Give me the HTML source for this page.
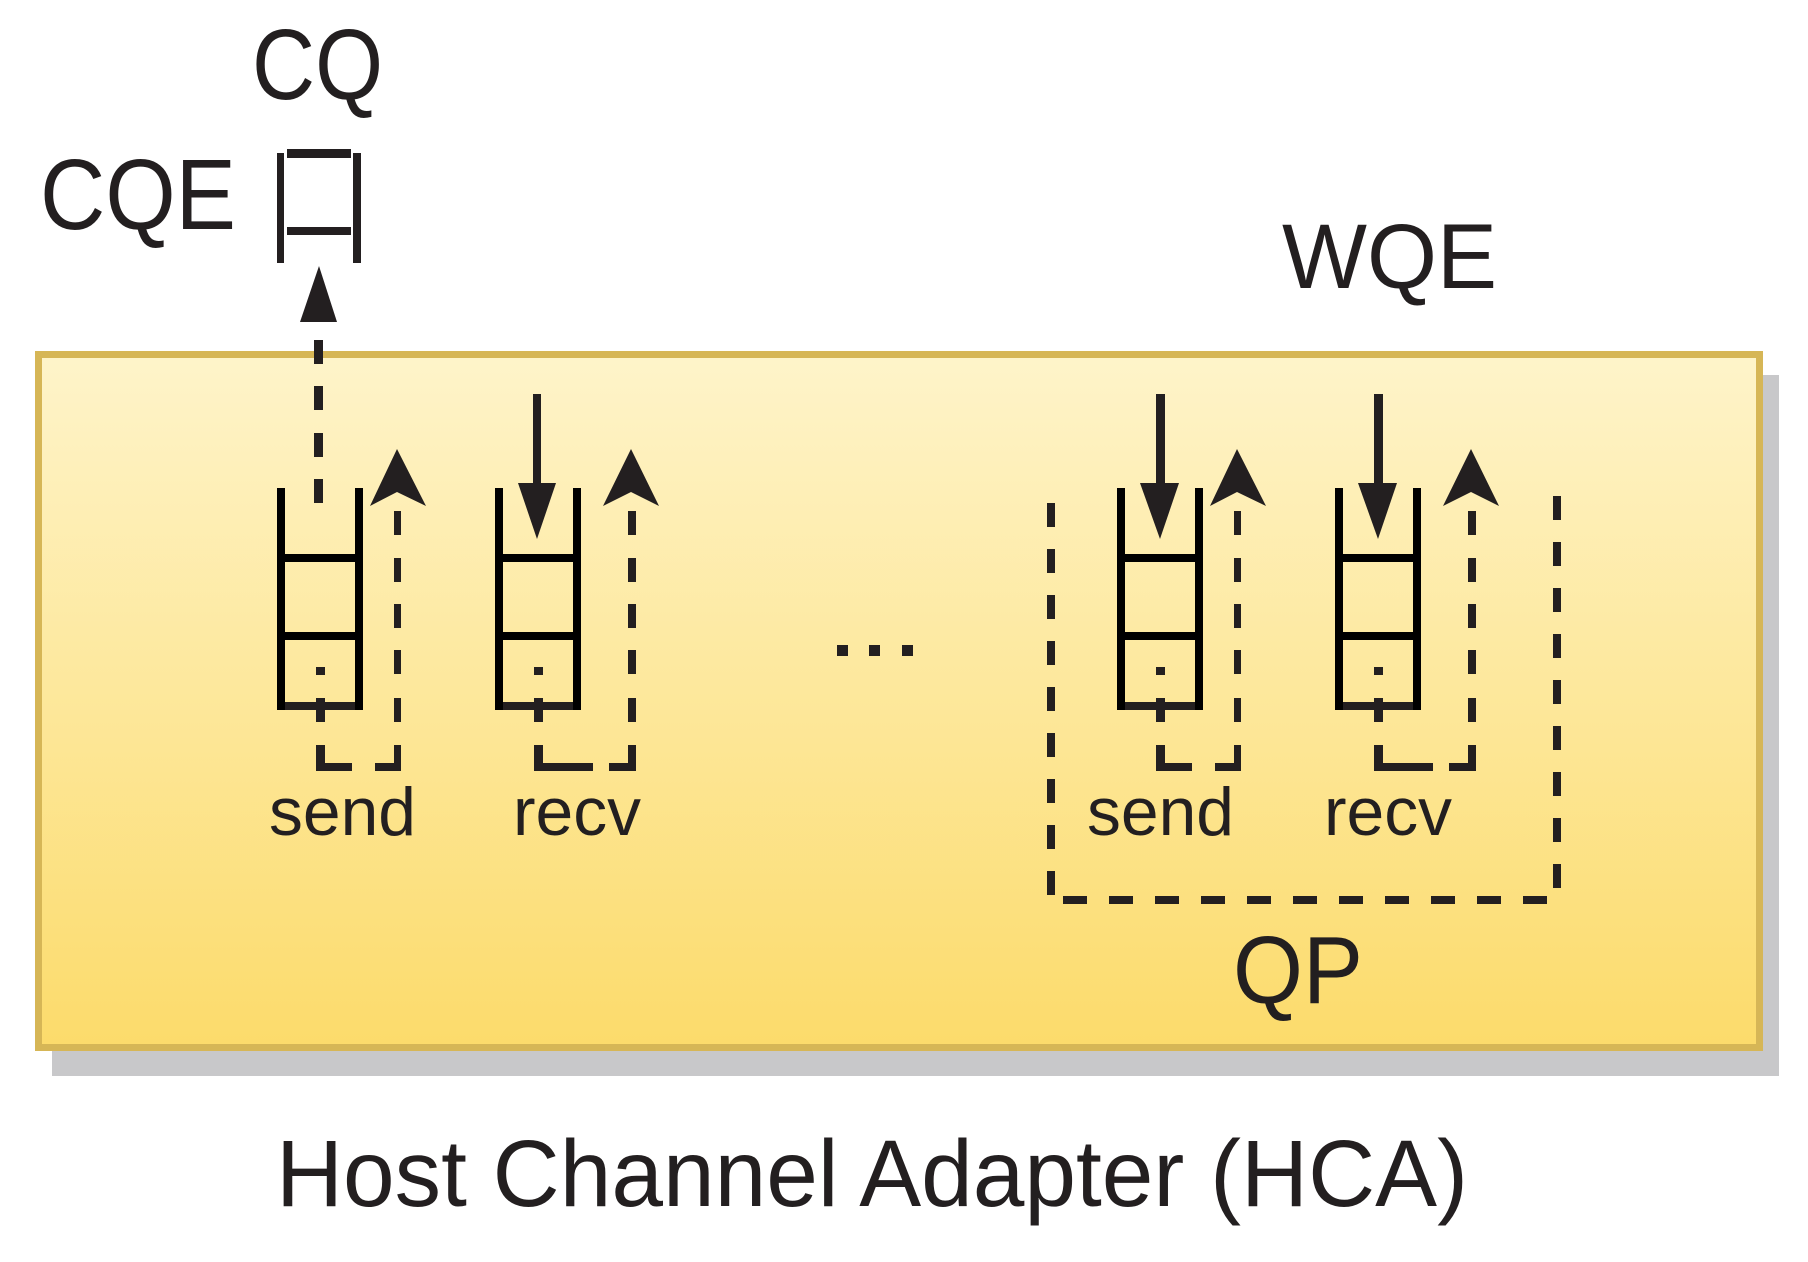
<!DOCTYPE html>
<html><head><meta charset="utf-8"><style>
html,body{margin:0;padding:0;background:#fff;}
svg{display:block;}
text{font-family:"Liberation Sans",Arial,sans-serif;fill:#231f20;}
</style></head><body>
<svg width="1808" height="1262" viewBox="0 0 1808 1262" xmlns="http://www.w3.org/2000/svg">
<defs>
<linearGradient id="g" x1="0" y1="0" x2="0" y2="1">
<stop offset="0" stop-color="#fef4ca"/>
<stop offset="1" stop-color="#fcdb6b"/>
</linearGradient>
<g id="q">
<rect x="1117" y="488" width="8" height="222" fill="#000"/>
<rect x="1195" y="488" width="8" height="222" fill="#000"/>
<rect x="1125" y="554" width="70" height="8" fill="#000"/>
<rect x="1125" y="632" width="70" height="8" fill="#000"/>
<rect x="1125" y="702" width="70" height="8" fill="#231f20"/>
<rect x="1156" y="667" width="9" height="8" fill="#231f20"/>
<rect x="1156" y="698" width="9" height="24" fill="#231f20"/>
<rect x="1156" y="745" width="9" height="26" fill="#231f20"/>
<rect x="1165" y="763" width="27" height="8" fill="#231f20"/>
</g>
</defs>

<rect x="52" y="375" width="1727" height="701" fill="#c8c8ca"/>
<rect x="38.5" y="354.5" width="1721" height="693" fill="url(#g)" stroke="#d6b656" stroke-width="7"/>

<text x="252" y="99" font-size="100" textLength="131" lengthAdjust="spacingAndGlyphs">CQ</text>
<text x="40" y="229" font-size="100" textLength="196" lengthAdjust="spacingAndGlyphs">CQE</text>
<rect x="277" y="153" width="7" height="110" fill="#231f20"/>
<rect x="353" y="153" width="8" height="110" fill="#231f20"/>
<rect x="287" y="149" width="64" height="9" fill="#231f20"/>
<rect x="287" y="227" width="64" height="8" fill="#231f20"/>
<polygon points="300,322 319,266 337,322" fill="#231f20"/>
<g fill="#231f20">
<rect x="314" y="340" width="9" height="24"/>
<rect x="314" y="386" width="9" height="24"/>
<rect x="314" y="433" width="9" height="24"/>
<rect x="314" y="479" width="9" height="24"/>
</g>

<text x="1282" y="288" font-size="92" textLength="215" lengthAdjust="spacingAndGlyphs">WQE</text>

<g id="pair">
<use href="#q"/>
<rect x="1215" y="763" width="26" height="8" fill="#231f20"/>
<polygon points="1210,506 1237,449 1266,506 1237,492" fill="#231f20"/>
<g fill="#231f20">
<rect x="1234" y="511" width="7" height="24"/><rect x="1234" y="558" width="7" height="24"/>
<rect x="1234" y="604" width="7" height="24"/><rect x="1234" y="650" width="7" height="24"/>
<rect x="1234" y="698" width="7" height="24"/><rect x="1234" y="745" width="7" height="26"/>
</g>
<g transform="translate(218,0)">
<use href="#q"/>
</g>
<rect x="1407" y="763" width="26" height="8" fill="#231f20"/>
<rect x="1449" y="763" width="27" height="8" fill="#231f20"/>
<polygon points="1443,506 1471,449 1499,506 1471,492" fill="#231f20"/>
<g fill="#231f20">
<rect x="1468" y="511" width="8" height="24"/><rect x="1468" y="558" width="8" height="24"/>
<rect x="1468" y="604" width="8" height="24"/><rect x="1468" y="650" width="8" height="24"/>
<rect x="1468" y="698" width="8" height="24"/><rect x="1468" y="745" width="8" height="26"/>
</g>
</g>
<use href="#pair" transform="translate(-840,0)"/>

<text x="1087" y="835" font-size="68" textLength="147" lengthAdjust="spacingAndGlyphs">send</text>
<text x="1324" y="835" font-size="68" textLength="128" lengthAdjust="spacingAndGlyphs">recv</text>
<text x="269" y="835" font-size="68" textLength="147" lengthAdjust="spacingAndGlyphs">send</text>
<text x="513" y="835" font-size="68" textLength="128" lengthAdjust="spacingAndGlyphs">recv</text>

<g fill="#231f20">
<rect x="533" y="394" width="8" height="92"/><polygon points="518,483 556,483 537,539"/>
<rect x="1156" y="394" width="9" height="92"/><polygon points="1140,483 1179,483 1160,539"/>
<rect x="1374" y="394" width="9" height="92"/><polygon points="1358,483 1397,483 1378,539"/>
</g>

<g fill="#231f20">
<rect x="837" y="645" width="11" height="11"/>
<rect x="869" y="645" width="11" height="11"/>
<rect x="902" y="645" width="11" height="11"/>
</g>

<g fill="none" stroke="#231f20" stroke-width="8">
<path d="M1051,503 V900" stroke-dasharray="24 22"/>
<path d="M1557,496 V900" stroke-dasharray="24 22"/>
<path d="M1063,900 H1553" stroke-dasharray="24 22"/>
</g>
<text x="1233" y="1003" font-size="96" textLength="130" lengthAdjust="spacingAndGlyphs">QP</text>

<text x="276" y="1206" font-size="95" textLength="1192" lengthAdjust="spacingAndGlyphs">Host Channel Adapter (HCA)</text>
</svg>
</body></html>
